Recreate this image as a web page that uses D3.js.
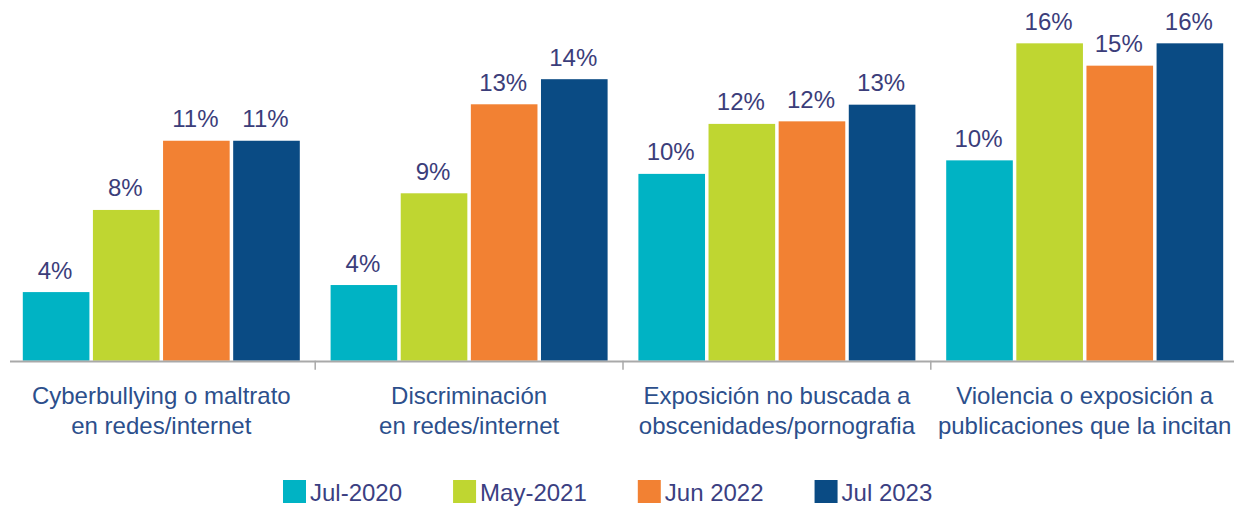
<!DOCTYPE html>
<html>
<head>
<meta charset="utf-8">
<script src="https://cdn.jsdelivr.net/npm/d3@7"></script>
<style>
  html, body { margin: 0; padding: 0; background: #ffffff; }
  svg { display: block; font-family: "Liberation Sans", Arial, sans-serif; }
</style>
</head>
<body>
<svg id="chart" width="1234" height="508"></svg>
<script>
// ---- data ----
const categories = [
  ["Cyberbullying o maltrato", "en redes/internet"],
  ["Discriminación", "en redes/internet"],
  ["Exposición no buscada a", "obscenidades/pornografia"],
  ["Violencia o exposición a", "publicaciones que la incitan"]
];
const seriesNames = ["Jul-2020", "May-2021", "Jun 2022", "Jul 2023"];
const jul2020 = [3.5, 3.86, 9.53, 10.22];
const may2021 = [7.69, 8.54, 12.08, 16.19];
const jun2022 = [11.22, 13.08, 12.21, 15.05];
const jul2023 = [11.22, 14.36, 13.06, 16.19];
const seriesValues = [jul2020, may2021, jun2022, jul2023];
const colors = ["#00B3C4", "#BFD631", "#F28133", "#0A4B84"];

// ---- layout ----
const svg = d3.select("#chart");
const baseY = 360.7;
const catIdx = categories.map((d, i) => i);

const x0 = d3.scaleBand().domain(catIdx).range([7.4, 1238.6]).padding(0);
const x1 = d3.scaleBand().domain(d3.range(seriesNames.length))
  .range([15.4, x0.bandwidth() - 15.4]).paddingInner(0.05).paddingOuter(0);
const y = d3.scaleLinear().domain([0, 18.4]).range([baseY, 0]);

// bars
const groups = svg.append("g").selectAll("g")
  .data(catIdx).join("g")
  .attr("transform", i => `translate(${x0(i)},0)`);

groups.selectAll("rect")
  .data(i => seriesValues.map((s, k) => ({ k, v: s[i] })))
  .join("rect")
  .attr("x", d => x1(d.k))
  .attr("y", d => y(d.v))
  .attr("width", x1.bandwidth())
  .attr("height", d => y(0) - y(d.v))
  .attr("fill", d => colors[d.k]);

// value labels
groups.selectAll("text")
  .data(i => seriesValues.map((s, k) => ({ k, v: s[i] })))
  .join("text")
  .attr("x", d => x1(d.k) + x1.bandwidth() / 2 - 1)
  .attr("y", d => y(d.v) - 13.5)
  .attr("text-anchor", "middle")
  .attr("font-size", 24)
  .attr("fill", "#3b3d7a")
  .text(d => Math.round(d.v) + "%");

// axis line + ticks at category boundaries
const axis = svg.append("g");
axis.append("line")
  .attr("x1", 10).attr("x2", 1241.5)
  .attr("y1", baseY + 0.8).attr("y2", baseY + 0.8)
  .attr("stroke", "#a9a9a9").attr("stroke-width", 2);
axis.selectAll("line.tick")
  .data(catIdx.slice(1))
  .join("line")
  .attr("class", "tick")
  .attr("x1", i => x0(i)).attr("x2", i => x0(i))
  .attr("y1", baseY).attr("y2", baseY + 9)
  .attr("stroke", "#a9a9a9").attr("stroke-width", 1.5);

// category labels
const catG = svg.append("g").selectAll("text")
  .data(catIdx).join("text")
  .attr("text-anchor", "middle")
  .attr("font-size", 24)
  .attr("fill", "#2c4f8c");
catG.selectAll("tspan")
  .data(i => categories[i].map(t => ({ t, i })))
  .join("tspan")
  .attr("x", d => x0(d.i) + x0.bandwidth() / 2)
  .attr("y", (d, j) => 404 + j * 30)
  .text(d => d.t);

// legend
const legend = svg.append("g");
let lx = 283;
seriesNames.forEach((name, k) => {
  legend.append("rect")
    .attr("x", lx).attr("y", 480)
    .attr("width", 23).attr("height", 23)
    .attr("fill", colors[k]);
  const t = legend.append("text")
    .attr("x", lx + 27).attr("y", 501)
    .attr("font-size", 24)
    .attr("fill", "#3b3f82")
    .text(name);
  const w = t.node().getComputedTextLength();
  lx += 27 + w + 51;
});
</script>
</body>
</html>
